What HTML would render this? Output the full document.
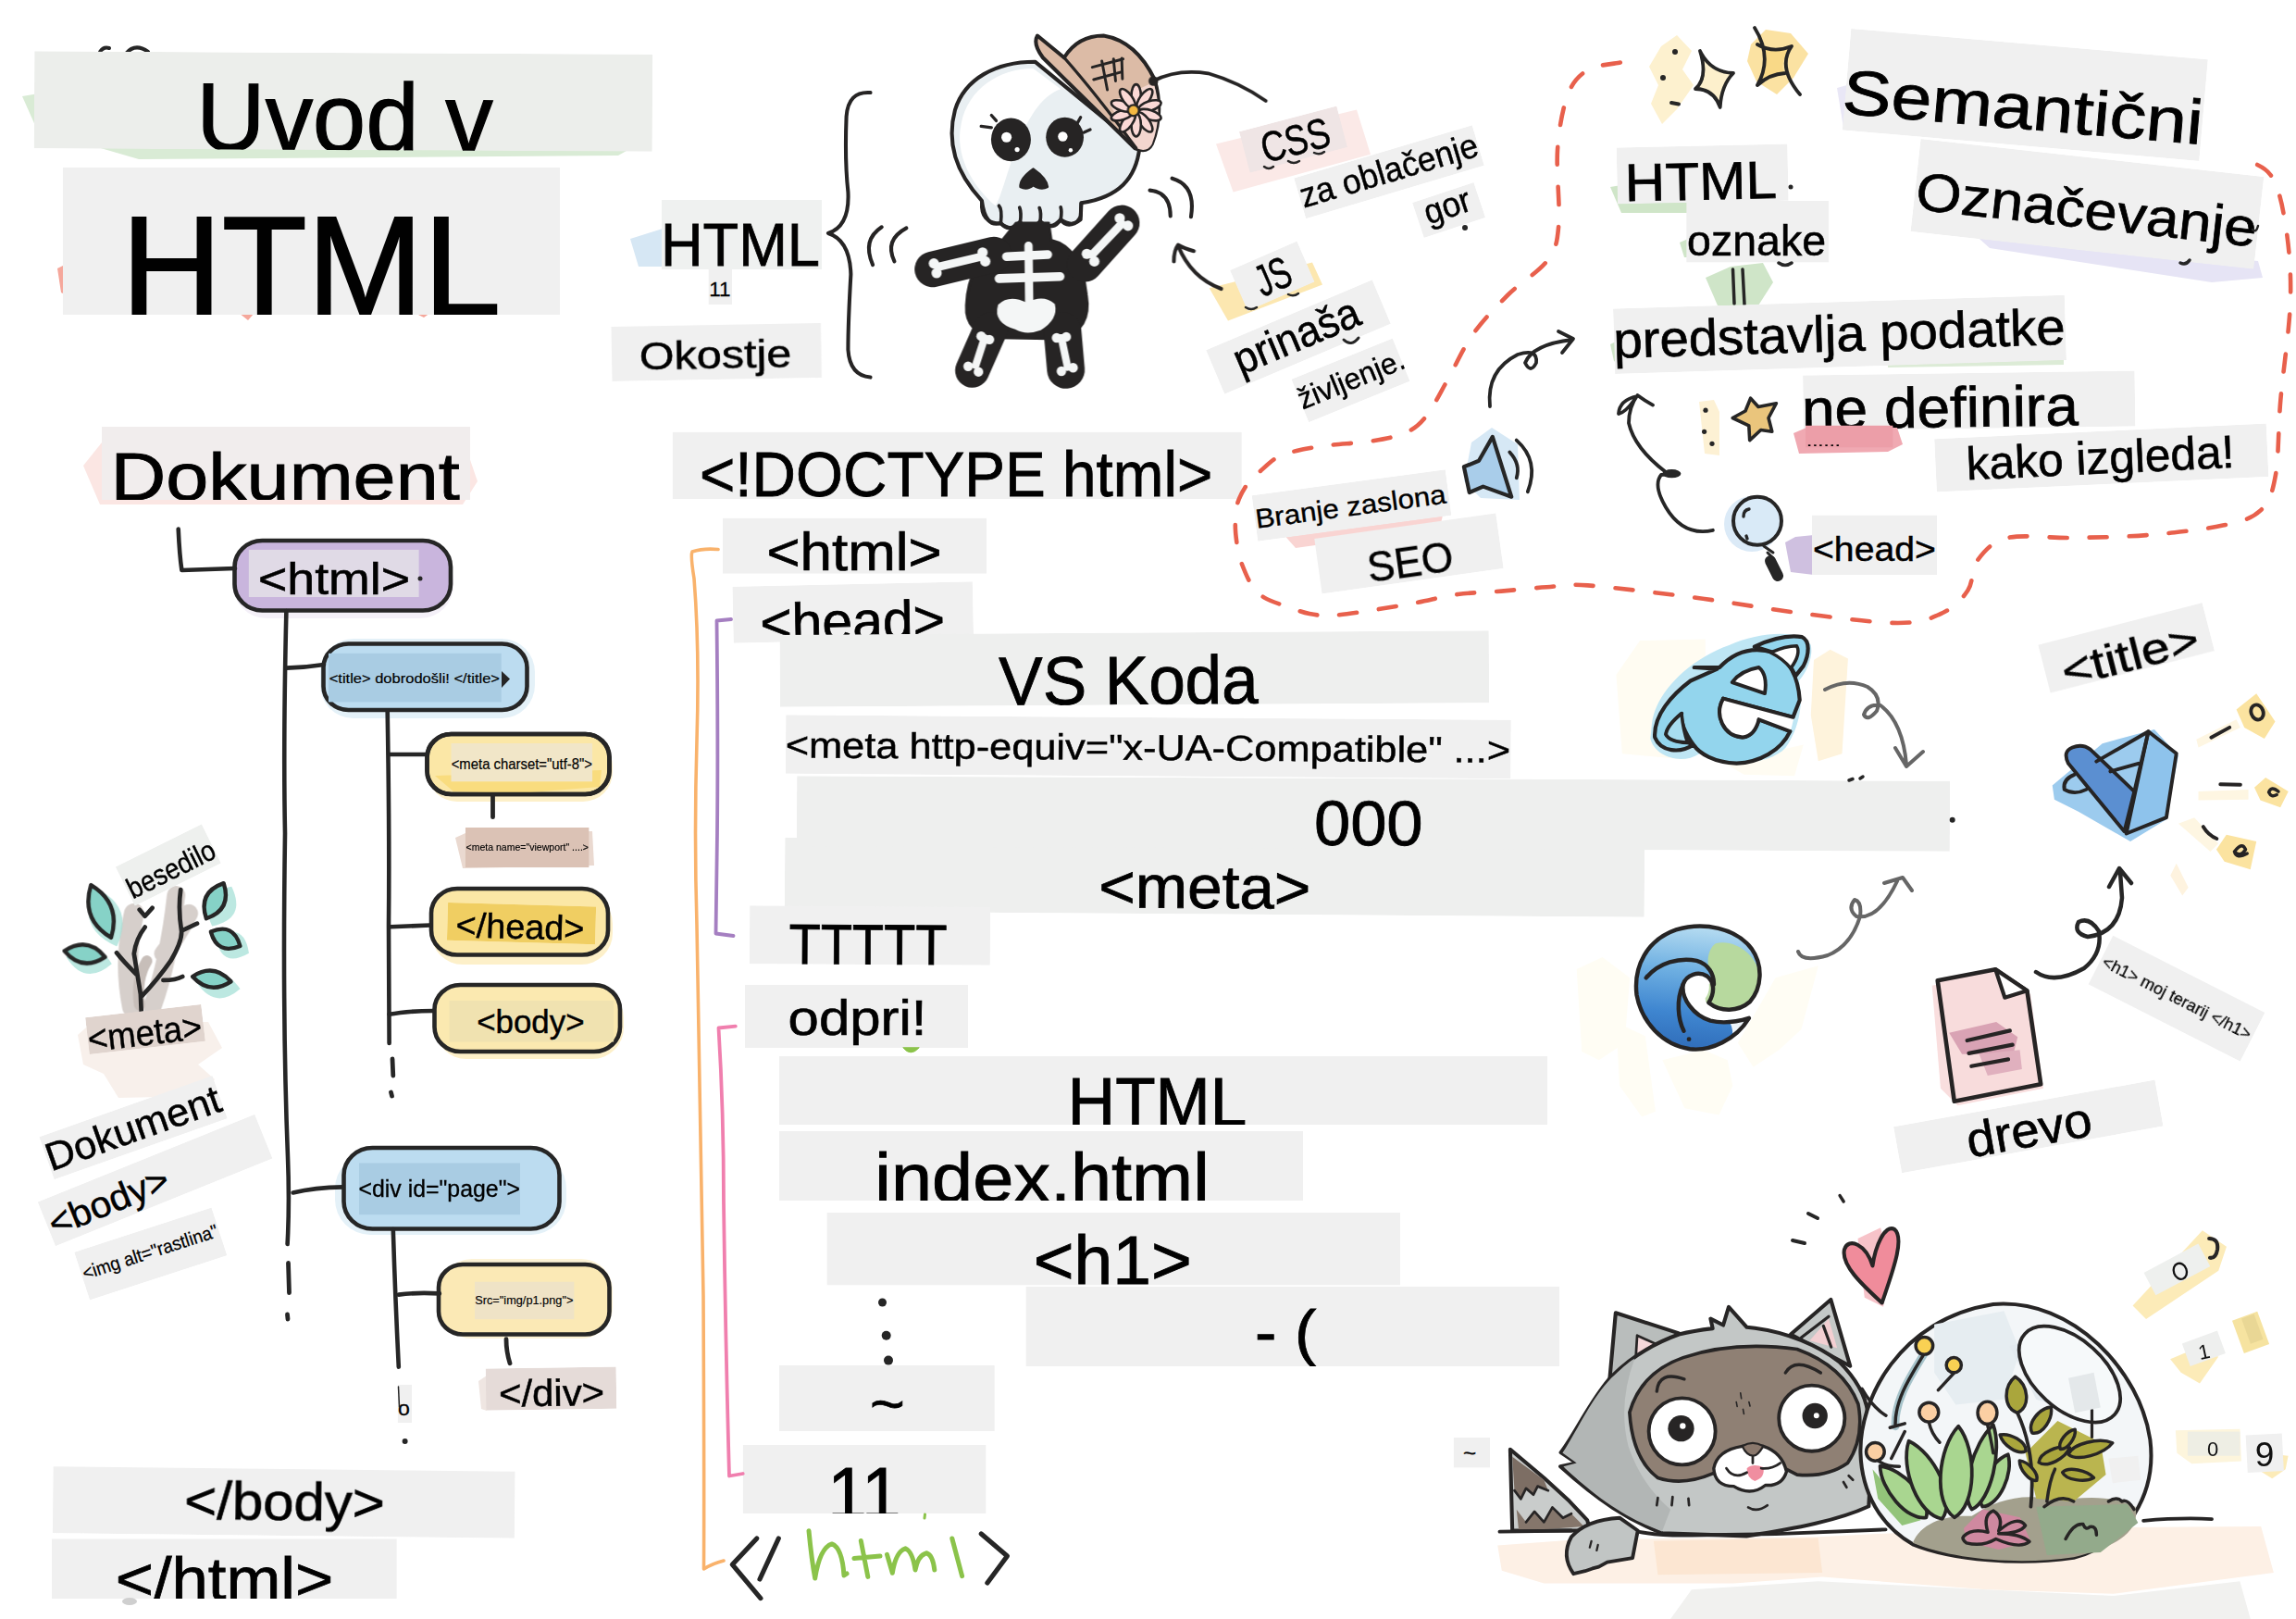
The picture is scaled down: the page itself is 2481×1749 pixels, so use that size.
<!DOCTYPE html>
<html><head><meta charset="utf-8"><title>Uvod v HTML</title>
<style>
html,body{margin:0;padding:0;background:#fff;}
body{width:2481px;height:1749px;overflow:hidden;font-family:"Liberation Sans",sans-serif;}
svg text{font-family:"Liberation Sans",sans-serif;}
</style></head><body>
<svg width="2481" height="1749" viewBox="0 0 2481 1749" style="display:block;opacity:0.999">
<polygon points="24.0,104.0 60.0,98.0 700.0,150.0 668.0,168.0 150.0,172.0 40.0,140.0" fill="#d9ebd5"/>
<path d="M108,56 q4,-6 10,-4 M136,58 q10,-12 24,-2" fill="none" stroke="#262626" stroke-width="4" stroke-linecap="round" stroke-linejoin="round" />
<g transform="rotate(0.30 371.0 109.5)">
<svg x="37.0" y="57.0" width="668.0" height="105.0" overflow="hidden">
<rect width="100%" height="100%" fill="#eceeeb"/>
<text x="175.3" y="106.5" font-size="105.0" fill="#000" stroke="#000" stroke-width="1.26" textLength="320.5" lengthAdjust="spacingAndGlyphs">Uvod v</text>
</svg></g>
<polygon points="62.0,290.0 70.0,286.0 70.0,318.0 66.0,316.0" fill="#f5a79b"/>
<polygon points="258.0,338.0 275.0,338.0 268.0,346.0" fill="#f5a79b"/>
<polygon points="448.0,338.0 465.0,338.0 458.0,343.0" fill="#f5a79b"/>
<g>
<svg x="68.0" y="181.0" width="537.0" height="159.0" overflow="hidden">
<rect width="100%" height="100%" fill="#f0f0f0"/>
<text x="62.9" y="159.5" font-size="153.9" fill="#000" stroke="#000" stroke-width="1.85" textLength="410.4" lengthAdjust="spacingAndGlyphs">HTML</text>
</svg></g>
<polygon points="90.0,503.0 110.0,478.0 505.0,488.0 516.0,520.0 500.0,545.0 108.0,545.0" fill="#fbe6e3"/>
<g>
<svg x="110.0" y="461.0" width="398.0" height="79.0" overflow="hidden">
<rect width="100%" height="100%" fill="#f1eded"/>
<text x="9.4" y="78.5" font-size="73.0" fill="#000" stroke="#000" stroke-width="0.88" textLength="377.3" lengthAdjust="spacingAndGlyphs">Dokument</text>
</svg></g>
<polygon points="681.0,258.0 716.0,247.0 716.0,288.0 690.0,288.0" fill="#d6e7f4"/>
<g>
<svg x="715.0" y="216.0" width="173.0" height="75.0" overflow="hidden">
<rect width="100%" height="100%" fill="#eff1f0"/>
<text x="-1.1" y="71.0" font-size="64.5" fill="#000" stroke="#000" stroke-width="0.77" textLength="172.1" lengthAdjust="spacingAndGlyphs">HTML</text>
</svg></g>
<g>
<svg x="765.5" y="291.0" width="25.5" height="38.0" overflow="hidden">
<rect width="100%" height="100%" fill="#f0f0f0"/>
<text x="0.8" y="28.5" font-size="21.8" fill="#000" stroke="#000" stroke-width="0.26" textLength="23.3" lengthAdjust="spacingAndGlyphs">11</text>
</svg></g>
<g transform="rotate(-1.00 774.2 380.5)">
<svg x="661.0" y="351.0" width="226.5" height="59.0" overflow="hidden">
<rect width="100%" height="100%" fill="#f0f0f0"/>
<text x="29.8" y="47.0" font-size="43.2" fill="#000" stroke="#000" stroke-width="0.52" textLength="164.4" lengthAdjust="spacingAndGlyphs">Okostje</text>
</svg></g>
<g>
<svg x="726.7" y="466.7" width="615.1" height="72.3" overflow="hidden">
<rect width="100%" height="100%" fill="#f0f0f0"/>
<text x="29.3" y="69.6" font-size="67.6" fill="#000" stroke="#000" stroke-width="0.81" textLength="554.4" lengthAdjust="spacingAndGlyphs">&lt;!DOCTYPE html&gt;</text>
</svg></g>
<g>
<svg x="780.8" y="559.7" width="285.2" height="60.0" overflow="hidden">
<rect width="100%" height="100%" fill="#f0f0f0"/>
<text x="47.6" y="56.3" font-size="58.2" fill="#000" stroke="#000" stroke-width="0.70" textLength="189.4" lengthAdjust="spacingAndGlyphs">&lt;html&gt;</text>
</svg></g>
<g transform="rotate(-1.20 921.8 661.5)">
<svg x="792.0" y="631.0" width="259.5" height="61.0" overflow="hidden">
<rect width="100%" height="100%" fill="#f0f0f0"/>
<text x="29.1" y="60.0" font-size="58.2" fill="#000" stroke="#000" stroke-width="0.70" textLength="199.7" lengthAdjust="spacingAndGlyphs">&lt;head&gt;</text>
</svg></g>
<g transform="rotate(-0.35 1225.8 722.5)">
<svg x="842.7" y="683.5" width="766.3" height="78.0" overflow="hidden">
<rect width="100%" height="100%" fill="#eeefee"/>
<text x="236.7" y="77.0" font-size="73.8" fill="#000" stroke="#000" stroke-width="0.89" textLength="280.2" lengthAdjust="spacingAndGlyphs">VS Koda</text>
</svg></g>
<g transform="rotate(0.40 1240.8 806.8)">
<svg x="849.0" y="775.0" width="783.6" height="63.5" overflow="hidden">
<rect width="100%" height="100%" fill="#f0f0f0"/>
<text x="-0.2" y="46.0" font-size="39.0" fill="#000" stroke="#000" stroke-width="0.47" textLength="783.3" lengthAdjust="spacingAndGlyphs">&lt;meta http-equiv=&quot;x-UA-Compatible&quot; ...&gt;</text>
</svg></g>
<g transform="rotate(0.40 1312.5 947.8)">
<svg x="848.0" y="908.0" width="929.0" height="79.5" overflow="hidden">
<rect width="100%" height="100%" fill="#eeefee"/>
<text x="339.6" y="73.0" font-size="65.5" fill="#000" stroke="#000" stroke-width="0.79" textLength="228.8" lengthAdjust="spacingAndGlyphs">&lt;meta&gt;</text>
</svg></g>
<g transform="rotate(0.25 1484.0 879.0)">
<svg x="861.0" y="841.0" width="1246.0" height="76.0" overflow="hidden">
<rect width="100%" height="100%" fill="#eeefee"/>
<text x="559.2" y="72.0" font-size="68.6" fill="#000" stroke="#000" stroke-width="0.82" textLength="117.5" lengthAdjust="spacingAndGlyphs">000</text>
</svg></g>
<g transform="rotate(0.30 940.0 1010.5)">
<svg x="810.0" y="979.0" width="260.0" height="63.0" overflow="hidden">
<rect width="100%" height="100%" fill="#f0f0f0"/>
<text x="42.7" y="64.0" font-size="63.4" fill="#000" stroke="#000" stroke-width="0.76" textLength="170.8" lengthAdjust="spacingAndGlyphs">TTTTT</text>
</svg></g>
<g>
<svg x="805.0" y="1063.8" width="241.0" height="68.2" overflow="hidden">
<rect width="100%" height="100%" fill="#f0f0f0"/>
<text x="46.6" y="54.2" font-size="53.0" fill="#000" stroke="#000" stroke-width="0.64" textLength="149.9" lengthAdjust="spacingAndGlyphs">odpri!</text>
</svg></g>
<g>
<svg x="842.0" y="1141.0" width="830.0" height="74.0" overflow="hidden">
<rect width="100%" height="100%" fill="#f0f0f0"/>
<text x="311.8" y="75.0" font-size="73.3" fill="#000" stroke="#000" stroke-width="0.88" textLength="193.5" lengthAdjust="spacingAndGlyphs">HTML</text>
</svg></g>
<g>
<svg x="842.0" y="1222.0" width="566.0" height="75.0" overflow="hidden">
<rect width="100%" height="100%" fill="#f0f0f0"/>
<text x="103.3" y="76.0" font-size="74.4" fill="#000" stroke="#000" stroke-width="0.89" textLength="361.5" lengthAdjust="spacingAndGlyphs">index.html</text>
</svg></g>
<g>
<svg x="893.4" y="1310.0" width="619.6" height="78.6" overflow="hidden">
<rect width="100%" height="100%" fill="#f0f0f0"/>
<text x="223.4" y="77.0" font-size="74.9" fill="#000" stroke="#000" stroke-width="0.90" textLength="171.0" lengthAdjust="spacingAndGlyphs">&lt;h1&gt;</text>
</svg></g>
<g>
<svg x="1108.5" y="1390.0" width="576.5" height="86.0" overflow="hidden">
<rect width="100%" height="100%" fill="#f0f0f0"/>
<text x="247.6" y="72.0" font-size="66.6" fill="#000" stroke="#000" stroke-width="0.80" textLength="66.3" lengthAdjust="spacingAndGlyphs">- (</text>
</svg></g>
<g>
<svg x="842.0" y="1475.0" width="232.8" height="71.0" overflow="hidden">
<rect width="100%" height="100%" fill="#f0f0f0"/>
<text x="98.1" y="63.0" font-size="62.4" fill="#000" stroke="#000" stroke-width="0.75" textLength="37.8" lengthAdjust="spacingAndGlyphs">~</text>
</svg></g>
<g>
<svg x="802.7" y="1561.0" width="262.8" height="74.0" overflow="hidden">
<rect width="100%" height="100%" fill="#f0f0f0"/>
<text x="91.5" y="80.0" font-size="80.1" fill="#000" stroke="#000" stroke-width="0.96" textLength="79.4" lengthAdjust="spacingAndGlyphs">11</text>
</svg></g>
<circle cx="953.5" cy="1407.0" r="4.5" fill="#262626"/>
<circle cx="957.7" cy="1442.8" r="5.0" fill="#262626"/>
<circle cx="960.0" cy="1469.6" r="5.0" fill="#262626"/>
<path d="M776,593.5 Q760,592 748,596 Q746,600 750,625 Q756,700 753,800 Q750,900 753,1000 Q757,1200 760,1400 Q761,1600 760.5,1695 Q770,1689 782,1686" fill="none" stroke="#f9b26b" stroke-width="3.6" stroke-linecap="round" stroke-linejoin="round" />
<path d="M790,669 L774.5,670.5 Q776,800 775,900 L773.5,1008.5 L792.5,1011" fill="none" stroke="#a57fc1" stroke-width="3.8" stroke-linecap="round" stroke-linejoin="round" />
<path d="M794.8,1108.7 L776.5,1110.5 Q782,1200 782,1300 Q784,1450 788,1594.5 L802.7,1592" fill="none" stroke="#f07fae" stroke-width="3.8" stroke-linecap="round" stroke-linejoin="round" />
<path d="M817.8,1662 L791.3,1690.2 L821.9,1726.6" fill="none" stroke="#262626" stroke-width="5.2" stroke-linecap="round" stroke-linejoin="round" />
<path d="M841.3,1662 L821,1706" fill="none" stroke="#262626" stroke-width="5.2" stroke-linecap="round" stroke-linejoin="round" />
<path d="M1060.3,1657 L1088.4,1681 L1066.9,1710" fill="none" stroke="#262626" stroke-width="5.2" stroke-linecap="round" stroke-linejoin="round" />
<path d="M874,1653.8 Q877,1685 880.7,1705 Q886,1672 898.9,1667.9 Q910,1672 912,1702 L915,1700 M930.3,1664.5 L937.8,1703.4 M922.9,1683.6 L951,1681 M958.5,1679.4 L964.3,1699.3 Q968,1676 978.3,1672.8 Q986,1676 989,1696 Q992,1680 1001.5,1677.8 Q1008,1680 1009.8,1696 M1028.8,1662 L1039.6,1702.6" fill="none" stroke="#8bc34a" stroke-width="5" stroke-linecap="round" stroke-linejoin="round" />
<path d="M999.5,1636 L999,1640" fill="none" stroke="#8bc34a" stroke-width="3" stroke-linecap="round" stroke-linejoin="round" />
<path d="M976,1132 Q984,1142 993,1132 Z" fill="#8bc34a" stroke="#8bc34a" stroke-width="1" stroke-linecap="round" stroke-linejoin="round" />
<polygon points="1314.0,155.6 1466.0,118.6 1481.0,166.7 1332.6,207.5" fill="#fbe9e7"/>
<g transform="rotate(-14.70 1397.5 150.7)">
<svg x="1343.0" y="127.7" width="109.0" height="46.0" overflow="hidden">
<rect width="100%" height="100%" fill="#efe5e5"/>
<text x="18.7" y="40.0" font-size="45.8" fill="#000" stroke="#000" stroke-width="0.55" textLength="75.5" lengthAdjust="spacingAndGlyphs">CSS</text>
</svg></g>
<path d="M1366,180 q5,4 10,0 M1392,174 q6,4 12,0 M1420,165 q6,3 11,-1" fill="none" stroke="#262626" stroke-width="2.5" stroke-linecap="round" stroke-linejoin="round" />
<g transform="rotate(-16.60 1501.0 185.7)">
<svg x="1400.5" y="162.9" width="201.0" height="45.5" overflow="hidden">
<rect width="100%" height="100%" fill="#f0f0f0"/>
<text x="1.1" y="33.8" font-size="37.4" fill="#000" stroke="#000" stroke-width="0.45" textLength="199.0" lengthAdjust="spacingAndGlyphs">za oblačenje</text>
</svg></g>
<g transform="rotate(-18.40 1565.6 227.0)">
<svg x="1530.6" y="207.0" width="70.0" height="40.0" overflow="hidden">
<rect width="100%" height="100%" fill="#f0f0f0"/>
<text x="9.1" y="28.0" font-size="37.4" fill="#000" stroke="#000" stroke-width="0.45" textLength="51.1" lengthAdjust="spacingAndGlyphs">gor</text>
</svg></g>
<circle cx="1583" cy="246" r="3" fill="#262626"/>
<polygon points="1306.7,311.3 1418.0,283.5 1429.0,307.5 1327.0,346.5" fill="#fce7b0"/>
<g transform="rotate(-23.50 1374.8 298.3)">
<svg x="1335.3" y="274.3" width="79.0" height="48.0" overflow="hidden">
<rect width="100%" height="100%" fill="#f0f0f0"/>
<text x="21.0" y="41.0" font-size="47.8" fill="#000" stroke="#000" stroke-width="0.57" textLength="38.0" lengthAdjust="spacingAndGlyphs">JS</text>
</svg></g>
<path d="M1346,332 q6,4 12,0 M1392,318 q6,3 11,-1" fill="none" stroke="#262626" stroke-width="2.5" stroke-linecap="round" stroke-linejoin="round" />
<g transform="rotate(-22.90 1403.0 364.0)">
<svg x="1305.5" y="338.2" width="195.0" height="51.6" overflow="hidden">
<rect width="100%" height="100%" fill="#f0f0f0"/>
<text x="24.1" y="39.8" font-size="46.8" fill="#000" stroke="#000" stroke-width="0.56" textLength="143.8" lengthAdjust="spacingAndGlyphs">prinaša</text>
</svg></g>
<path d="M1452,367 q8,8 16,-2" fill="none" stroke="#262626" stroke-width="3" stroke-linecap="round" stroke-linejoin="round" />
<g transform="rotate(-22.10 1459.5 410.8)">
<svg x="1400.5" y="385.8" width="118.0" height="50.0" overflow="hidden">
<rect width="100%" height="100%" fill="#f0f0f0"/>
<text x="-1.3" y="35.0" font-size="32.2" fill="#000" stroke="#000" stroke-width="0.39" textLength="122.3" lengthAdjust="spacingAndGlyphs">življenje.</text>
</svg></g>
<polygon points="1385.0,575.0 1560.0,552.0 1556.0,570.0 1400.0,592.0" fill="#f9d4d2"/>
<g transform="rotate(-7.60 1460.5 546.0)">
<svg x="1355.0" y="521.0" width="211.0" height="50.0" overflow="hidden">
<rect width="100%" height="100%" fill="#f0f0f0"/>
<text x="0.5" y="36.0" font-size="29.1" fill="#000" stroke="#000" stroke-width="0.35" textLength="207.5" lengthAdjust="spacingAndGlyphs">Branje zaslona</text>
</svg></g>
<g transform="rotate(-8.00 1522.5 598.0)">
<svg x="1423.5" y="568.0" width="198.0" height="60.0" overflow="hidden">
<rect width="100%" height="100%" fill="#f0f0f0"/>
<text x="52.5" y="55.0" font-size="45.8" fill="#000" stroke="#000" stroke-width="0.55" textLength="93.0" lengthAdjust="spacingAndGlyphs">SEO</text>
</svg></g>
<polygon points="1985.0,95.0 2010.0,88.0 2000.0,140.0 1992.0,138.0" fill="#e9e7f6"/>
<g transform="rotate(4.95 2188.3 102.4)">
<svg x="1994.8" y="47.4" width="387.0" height="110.0" overflow="hidden">
<rect width="100%" height="100%" fill="#f0f0f0"/>
<text x="-2.8" y="92.0" font-size="68.0" fill="#000" stroke="#000" stroke-width="0.82" textLength="390.3" lengthAdjust="spacingAndGlyphs">Semantični</text>
</svg></g>
<polygon points="2130.0,250.0 2440.0,282.0 2445.0,300.0 2390.0,305.0 2150.0,268.0" fill="#e6e4f5"/>
<g transform="rotate(6.28 2255.4 220.5)">
<svg x="2068.9" y="170.2" width="373.0" height="100.5" overflow="hidden">
<rect width="100%" height="100%" fill="#f0f0f0"/>
<text x="1.4" y="76.2" font-size="58.0" fill="#000" stroke="#000" stroke-width="0.70" textLength="370.3" lengthAdjust="spacingAndGlyphs">Označevanje</text>
</svg></g>
<path d="M2434,248 q4,4 6,-4" fill="none" stroke="#262626" stroke-width="2.5" stroke-linecap="round" stroke-linejoin="round" />
<path d="M2356,284 q6,3 10,-3" fill="none" stroke="#262626" stroke-width="3.5" stroke-linecap="round" stroke-linejoin="round" />
<polygon points="1740.0,202.0 1752.0,200.0 1830.0,216.0 1828.0,230.0 1752.0,230.0" fill="#cfe5c8"/>
<g transform="rotate(-1.20 1839.7 188.1)">
<svg x="1747.3" y="157.5" width="184.7" height="61.1" overflow="hidden">
<rect width="100%" height="100%" fill="#f0f0f0"/>
<text x="8.2" y="58.1" font-size="57.2" fill="#000" stroke="#000" stroke-width="0.69" textLength="164.3" lengthAdjust="spacingAndGlyphs">HTML</text>
</svg></g>
<circle cx="1935" cy="202" r="2.5" fill="#262626"/>
<polygon points="1815.0,262.0 1824.0,258.0 1824.0,278.0 1820.0,278.0" fill="#cfe5c8"/>
<g>
<svg x="1822.2" y="216.8" width="154.1" height="66.7" overflow="hidden">
<rect width="100%" height="100%" fill="#f0f0f0"/>
<text x="0.9" y="59.2" font-size="46.8" fill="#000" stroke="#000" stroke-width="0.56" textLength="149.9" lengthAdjust="spacingAndGlyphs">oznake</text>
</svg></g>
<path d="M1922,284 q7,5 14,0" fill="none" stroke="#262626" stroke-width="3.5" stroke-linecap="round" stroke-linejoin="round" />
<polygon points="1843.0,300.0 1870.0,288.0 1905.0,284.0 1916.0,305.0 1900.0,330.0 1856.0,330.0" fill="#cfe5c8"/>
<path d="M1872.5,291 L1874,328 M1883,291 L1885,329" fill="none" stroke="#262626" stroke-width="3.5" stroke-linecap="round" stroke-linejoin="round" />
<polygon points="1740.0,372.0 1748.0,368.0 1748.0,392.0 1744.0,390.0" fill="#cfe5c8"/>
<polygon points="2040.0,388.0 2230.0,384.0 2230.0,394.0 2040.0,397.0" fill="#dcebd6"/>
<g transform="rotate(-1.74 1988.0 361.3)">
<svg x="1744.0" y="326.1" width="488.0" height="70.4" overflow="hidden">
<rect width="100%" height="100%" fill="#f0f0f0"/>
<text x="-0.7" y="53.2" font-size="55.1" fill="#000" stroke="#000" stroke-width="0.66" textLength="488.3" lengthAdjust="spacingAndGlyphs">predstavlja podatke</text>
</svg></g>
<g transform="rotate(-0.80 2127.8 433.0)">
<svg x="1948.5" y="403.0" width="358.5" height="60.0" overflow="hidden">
<rect width="100%" height="100%" fill="#f0f0f0"/>
<text x="-1.7" y="58.0" font-size="61.4" fill="#000" stroke="#000" stroke-width="0.74" textLength="298.8" lengthAdjust="spacingAndGlyphs">ne definira</text>
</svg></g>
<polygon points="1938.0,468.0 1952.0,462.0 2050.0,462.0 2056.0,480.0 2040.0,488.0 1944.0,490.0" fill="#f0a9b2"/>
<g>
<svg x="1951.0" y="459.5" width="94.6" height="24.1" overflow="hidden">
<rect width="100%" height="100%" fill="#ec9ea8"/>
<text x="1.0" y="22.5" font-size="14.6" fill="#000" stroke="#000" stroke-width="0.17" textLength="37.0" lengthAdjust="spacingAndGlyphs">......</text>
</svg></g>
<g transform="rotate(-2.66 2270.8 494.6)">
<svg x="2091.3" y="465.9" width="359.0" height="57.4" overflow="hidden">
<rect width="100%" height="100%" fill="#f0f0f0"/>
<text x="33.3" y="45.7" font-size="49.9" fill="#000" stroke="#000" stroke-width="0.60" textLength="289.8" lengthAdjust="spacingAndGlyphs">kako izgleda!</text>
</svg></g>
<polygon points="1929.0,586.0 1940.0,580.0 1960.0,578.0 1960.0,621.0 1935.0,618.0" fill="#cfc0e0"/>
<g>
<svg x="1958.0" y="556.5" width="135.0" height="64.5" overflow="hidden">
<rect width="100%" height="100%" fill="#f0f0f0"/>
<text x="1.0" y="49.5" font-size="37.4" fill="#000" stroke="#000" stroke-width="0.45" textLength="132.8" lengthAdjust="spacingAndGlyphs">&lt;head&gt;</text>
</svg></g>
<path d="M1750.8,67.6 C1744.9,68.9 1725.1,69.8 1715.6,75.7 C1706.1,81.6 1699.4,88.3 1694.0,102.7 C1688.6,117.1 1684.6,138.6 1683.0,162.0 C1681.4,185.4 1686.1,223.2 1684.3,243.0 C1682.5,262.8 1681.6,268.3 1672.4,281.0 C1663.2,293.7 1642.6,305.5 1629.0,319.0 C1615.4,332.5 1601.8,346.7 1591.0,362.0 C1580.2,377.3 1572.4,396.1 1564.0,410.8 C1555.6,425.6 1548.1,441.0 1540.4,450.5 C1532.7,460.0 1527.7,463.5 1517.8,467.9 C1507.9,472.2 1494.8,474.4 1481.2,476.6 C1467.6,478.8 1449.3,479.3 1435.9,481.0 C1422.5,482.7 1410.3,484.8 1401.0,487.0 C1391.7,489.2 1386.8,490.2 1380.1,494.0 C1373.4,497.8 1366.1,505.3 1361.0,509.7 C1355.9,514.0 1353.6,514.6 1349.7,520.1 C1345.8,525.6 1340.0,534.9 1337.5,542.8 C1335.0,550.6 1334.8,558.8 1334.8,567.2 C1334.8,575.6 1336.3,586.3 1337.5,593.3 C1338.7,600.3 1339.3,602.6 1341.8,609.0 C1344.3,615.4 1348.2,625.5 1352.3,631.6 C1356.4,637.7 1359.8,641.7 1366.2,645.6 C1372.6,649.5 1382.5,652.3 1390.6,655.2 C1398.7,658.1 1406.6,661.4 1415.0,663.0 C1423.4,664.6 1429.2,665.4 1441.1,664.7 C1453.0,664.0 1471.3,660.9 1486.4,658.6 C1501.5,656.3 1516.9,653.6 1531.7,650.8 C1546.5,648.0 1560.2,644.0 1575.3,642.0 C1590.4,640.0 1606.3,639.9 1622.3,638.6 C1638.3,637.3 1655.5,635.3 1671.1,634.3 C1686.6,633.3 1688.3,630.4 1715.6,632.4 C1742.8,634.4 1796.8,641.1 1834.6,646.0 C1872.4,650.9 1906.7,657.5 1942.7,662.0 C1978.7,666.5 2024.7,673.0 2050.8,673.0 C2076.9,673.0 2086.8,667.9 2099.4,662.0 C2112.0,656.1 2120.1,647.3 2126.4,637.8 C2132.7,628.3 2129.8,614.5 2137.0,605.0 C2144.2,595.5 2152.5,585.0 2169.7,581.0 C2186.9,577.0 2214.8,581.5 2240.0,581.0 C2265.2,580.5 2294.0,580.2 2321.0,578.0 C2348.0,575.8 2381.7,572.0 2402.0,567.6 C2422.3,563.2 2433.2,560.4 2442.7,551.4 C2452.2,542.4 2455.3,533.3 2458.9,513.5 C2462.5,493.7 2461.6,464.0 2464.3,432.4 C2467.0,400.8 2474.1,355.6 2475.0,324.0 C2475.9,292.4 2473.3,265.5 2469.7,243.0 C2466.1,220.5 2462.1,201.2 2453.5,189.0 C2444.9,176.8 2424.2,173.2 2418.3,170.0" fill="none" stroke="#e8604c" stroke-width="4.6" stroke-linecap="round" stroke-linejoin="round" stroke-dasharray="19 24"/>
<polygon points="1795.0,50.0 1812.0,38.0 1828.0,55.0 1818.0,75.0 1830.0,92.0 1812.0,118.0 1796.0,134.0 1784.0,112.0 1792.0,92.0 1782.0,72.0" fill="#fdf1cf"/>
<polygon points="1892.0,48.0 1908.0,32.0 1935.0,36.0 1954.0,58.0 1938.0,84.0 1920.0,102.0 1898.0,88.0 1888.0,66.0" fill="#fbe2a2"/>
<path d="M1837,55 Q1848,78 1873,79 Q1860,92 1858.7,116 Q1852,96 1832,96 Q1846,84 1837,55 Z" fill="#fdf0cc" stroke="#262626" stroke-width="3.8" stroke-linecap="round" stroke-linejoin="round" />
<path d="M1899,48 Q1916,58 1936,50 Q1921,70 1929,79 Q1912,80 1899,92 Q1915,62 1899,48 Z" fill="#f9d987" stroke="none" stroke-width="0" stroke-linecap="round" stroke-linejoin="round" />
<path d="M1896,30 Q1916,62 1899,92 M1899,48 Q1916,58 1936,50 Q1920,72 1945,102 M1899,92 Q1912,80 1929,79" fill="none" stroke="#262626" stroke-width="3.8" stroke-linecap="round" stroke-linejoin="round" />
<circle cx="1810" cy="56" r="3" fill="#262626"/>
<circle cx="1797" cy="84" r="3" fill="#262626"/>
<path d="M1806,111 l8,1.5" fill="none" stroke="#262626" stroke-width="4" stroke-linecap="round" stroke-linejoin="round" />
<polygon points="1590.0,478.0 1612.0,462.0 1640.0,480.0 1642.0,540.0 1600.0,538.0 1582.0,520.0" fill="#d6e8f5"/>
<path d="M1581.9,504.3 L1598,497.8 L1612.8,471.9 L1633.2,536.7 L1602.6,525.6 L1587.8,532 Z" fill="#a9cdea" stroke="#262626" stroke-width="4.2" stroke-linecap="round" stroke-linejoin="round" />
<path d="M1631.3,488.5 Q1643.4,501.5 1638.7,516.3 M1638.7,475.6 Q1663.7,497.8 1650.8,531.2" fill="none" stroke="#262626" stroke-width="3.8" stroke-linecap="round" stroke-linejoin="round" />
<path d="M1610,439 Q1606,400 1640,383 Q1662,376 1660,392 Q1654,404 1648,392 Q1656,372 1699,367 M1684,358 L1700,366 L1688,381" fill="none" stroke="#262626" stroke-width="3.8" stroke-linecap="round" stroke-linejoin="round" />
<path d="M1850.9,572.8 Q1819,580 1800,548 Q1786,524 1795,513 L1812,511 M1800,510 Q1766,484 1760,457 Q1760,440 1769.4,427 Q1776,432 1786,437.6 M1769,428 Q1750,432 1749,447 Q1756,446 1766,432" fill="none" stroke="#262626" stroke-width="3.8" stroke-linecap="round" stroke-linejoin="round" />
<ellipse cx="1806.4" cy="511.7" rx="10" ry="4.6" fill="#262626"/>
<polygon points="1836.0,434.0 1852.0,432.0 1858.0,445.0 1858.0,492.0 1842.0,490.0" fill="#fdf1d4"/>
<circle cx="1843.0" cy="443.2" r="2.6" fill="#262626"/>
<circle cx="1841.6" cy="466.3" r="2.6" fill="#262626"/>
<circle cx="1850.0" cy="479.3" r="2.6" fill="#262626"/>
<path d="M1891.6,430.2 L1900,439.5 L1919.4,435.7 L1911,451.5 L1914.8,466.3 L1902.7,464.5 L1890.7,475.6 L1889.8,459.8 L1872.2,451.5 L1886,444 Z" fill="#eac57c" stroke="#262626" stroke-width="3.6" stroke-linecap="round" stroke-linejoin="round" />
<circle cx="1893" cy="566" r="30" fill="#dbeaf7"/>
<circle cx="1899" cy="562.7" r="26" fill="#d9eaf7" stroke="#262626" stroke-width="4"/>
<path d="M1884,558 Q1884,551 1890,550 M1887,579 L1888,582" fill="none" stroke="#262626" stroke-width="3.4" stroke-linecap="round" stroke-linejoin="round" />
<path d="M1906,590 L1916,597 M1910,597 L1916,603" fill="none" stroke="#262626" stroke-width="3" stroke-linecap="round" stroke-linejoin="round" />
<path d="M1913,606 L1921,622" fill="none" stroke="#262626" stroke-width="12" stroke-linecap="round" stroke-linejoin="round" />
<g transform="translate(620 0) scale(0.37054)">
<path d="M865,270 Q800,265 795,340 Q790,470 800,560 Q805,660 742,680 Q805,700 808,800 Q800,940 800,1020 Q805,1095 865,1100" fill="none" stroke="#262424" stroke-width="11" stroke-linecap="round" stroke-linejoin="round" />
<path d="M898,662 Q840,700 872,772 M970,665 Q905,700 935,762" fill="none" stroke="#262424" stroke-width="11" stroke-linecap="round" stroke-linejoin="round" />
<path d="M1680,555 Q1740,560 1740,630 M1745,520 Q1815,540 1800,632" fill="none" stroke="#262424" stroke-width="11" stroke-linecap="round" stroke-linejoin="round" />
<path d="M1190,585 C1120,510 1085,420 1112,320 C1140,230 1230,180 1345,180 L1650,430 C1640,520 1590,575 1480,592 L1478,640 Q1440,670 1420,640 Q1390,675 1360,645 Q1330,680 1300,648 Q1270,680 1245,650 Q1200,665 1190,585 Z" fill="#e9eff2" stroke="#262424" stroke-width="11" stroke-linecap="round" stroke-linejoin="round" />
<path d="M1130,360 C1150,260 1240,200 1340,200 L1420,260 C1300,300 1260,560 1230,600 C1160,540 1110,450 1130,360 Z" fill="#ffffff" stroke="none" stroke-width="0" stroke-linecap="round" stroke-linejoin="round" />
<path d="M1190,590 Q1185,650 1245,652 Q1250,610 1240,600 M1245,652 Q1290,680 1302,648 Q1306,620 1300,605 M1302,648 Q1340,682 1360,646 Q1364,620 1358,606 M1360,646 Q1400,676 1420,640 Q1424,616 1420,604 M1420,640 Q1462,668 1478,630 L1480,592" fill="none" stroke="#262424" stroke-width="10" stroke-linecap="round" stroke-linejoin="round" />
<ellipse cx="1275" cy="407" rx="58" ry="63" fill="#262424"/>
<ellipse cx="1432" cy="400" rx="55" ry="58" fill="#262424"/>
<circle cx="1262" cy="400" r="15" fill="#fff"/><circle cx="1293" cy="436" r="7" fill="#fff"/>
<circle cx="1426" cy="398" r="14" fill="#fff"/><circle cx="1449" cy="438" r="6" fill="#fff"/>
<path d="M1218,372 L1188,368 M1232,352 L1218,336 M1468,360 L1478,342 M1488,386 L1506,378" fill="none" stroke="#262424" stroke-width="9" stroke-linecap="round" stroke-linejoin="round" />
<path d="M1340,492 Q1300,520 1302,545 Q1322,556 1340,540 Q1362,556 1382,545 Q1380,520 1340,492 Z" fill="#262424" stroke="#262424" stroke-width="6" stroke-linecap="round" stroke-linejoin="round" />
<path d="M1352,104 Q1338,128 1368,168 L1636,432 Q1672,448 1686,420 Q1722,330 1694,232 Q1640,120 1545,104 Q1470,104 1430,168 Z" fill="#dcbba6" stroke="#262424" stroke-width="11" stroke-linecap="round" stroke-linejoin="round" />
<path d="M1560,300 L1690,240 Q1720,330 1686,420 Q1672,446 1640,432 Z" fill="#f3d6cf" stroke="none" stroke-width="0" stroke-linecap="round" stroke-linejoin="round" />
<path d="M1430,168 Q1520,270 1640,432" fill="none" stroke="#262424" stroke-width="9" stroke-linecap="round" stroke-linejoin="round" />
<path d="M1512,196 L1602,172 M1516,232 L1596,210 M1540,178 L1556,262 M1574,172 L1580,236 M1598,170 L1600,230" fill="none" stroke="#262424" stroke-width="8" stroke-linecap="round" stroke-linejoin="round" />
<ellipse cx="1640" cy="322" rx="14" ry="34" fill="#fbd9d6" stroke="#262424" stroke-width="7" transform="rotate(0 1640 322) translate(0 -42)"/>
<ellipse cx="1640" cy="322" rx="14" ry="34" fill="#fbd9d6" stroke="#262424" stroke-width="7" transform="rotate(36 1640 322) translate(0 -42)"/>
<ellipse cx="1640" cy="322" rx="14" ry="34" fill="#fbd9d6" stroke="#262424" stroke-width="7" transform="rotate(72 1640 322) translate(0 -42)"/>
<ellipse cx="1640" cy="322" rx="14" ry="34" fill="#fbd9d6" stroke="#262424" stroke-width="7" transform="rotate(108 1640 322) translate(0 -42)"/>
<ellipse cx="1640" cy="322" rx="14" ry="34" fill="#fbd9d6" stroke="#262424" stroke-width="7" transform="rotate(144 1640 322) translate(0 -42)"/>
<ellipse cx="1640" cy="322" rx="14" ry="34" fill="#fbd9d6" stroke="#262424" stroke-width="7" transform="rotate(180 1640 322) translate(0 -42)"/>
<ellipse cx="1640" cy="322" rx="14" ry="34" fill="#fbd9d6" stroke="#262424" stroke-width="7" transform="rotate(216 1640 322) translate(0 -42)"/>
<ellipse cx="1640" cy="322" rx="14" ry="34" fill="#fbd9d6" stroke="#262424" stroke-width="7" transform="rotate(252 1640 322) translate(0 -42)"/>
<ellipse cx="1640" cy="322" rx="14" ry="34" fill="#fbd9d6" stroke="#262424" stroke-width="7" transform="rotate(288 1640 322) translate(0 -42)"/>
<ellipse cx="1640" cy="322" rx="14" ry="34" fill="#fbd9d6" stroke="#262424" stroke-width="7" transform="rotate(324 1640 322) translate(0 -42)"/>
<circle cx="1632" cy="322" r="16" fill="#f5b942" stroke="#262424" stroke-width="6"/>
<circle cx="1690" cy="236" r="14" fill="#262424"/>
<path d="M1690,236 Q1760,200 1850,214 Q1940,240 2018,294" fill="none" stroke="#262424" stroke-width="10" stroke-linecap="round" stroke-linejoin="round" />
<path d="M1290,650 L1385,650 L1392,700 Q1480,720 1495,860 Q1512,960 1420,988 L1240,984 Q1140,975 1145,890 Q1150,760 1250,700 Z" fill="#262424" stroke="#262424" stroke-width="8" stroke-linecap="round" stroke-linejoin="round" />
<path d="M1046,785 L1225,742" fill="none" stroke="#262424" stroke-width="104" stroke-linecap="round" stroke-linejoin="round" />
<path d="M1490,770 L1598,650" fill="none" stroke="#262424" stroke-width="104" stroke-linecap="round" stroke-linejoin="round" />
<path d="M1215,960 L1162,1080" fill="none" stroke="#262424" stroke-width="100" stroke-linecap="round" stroke-linejoin="round" />
<path d="M1425,965 L1435,1078" fill="none" stroke="#262424" stroke-width="110" stroke-linecap="round" stroke-linejoin="round" />
<path d="M1062,778 L1188,748" fill="none" stroke="#f4f6f6" stroke-width="24" stroke-linecap="round" stroke-linejoin="round" />
<circle cx="1050" cy="768" r="15" fill="#f4f6f6"/>
<circle cx="1058" cy="796" r="15" fill="#f4f6f6"/>
<circle cx="1192" cy="736" r="15" fill="#f4f6f6"/>
<circle cx="1200" cy="762" r="15" fill="#f4f6f6"/>
<path d="M1512,742 L1598,652" fill="none" stroke="#f4f6f6" stroke-width="24" stroke-linecap="round" stroke-linejoin="round" />
<circle cx="1496" cy="740" r="15" fill="#f4f6f6"/>
<circle cx="1518" cy="762" r="15" fill="#f4f6f6"/>
<circle cx="1592" cy="636" r="15" fill="#f4f6f6"/>
<circle cx="1616" cy="658" r="15" fill="#f4f6f6"/>
<path d="M1262,748 L1382,742 M1240,812 L1418,806" fill="none" stroke="#f4f6f6" stroke-width="26" stroke-linecap="round" stroke-linejoin="round" />
<path d="M1326,716 L1328,880" fill="none" stroke="#f4f6f6" stroke-width="24" stroke-linecap="round" stroke-linejoin="round" />
<path d="M1240,890 Q1270,860 1320,885 Q1370,860 1400,888 Q1410,930 1360,960 Q1320,975 1290,958 Q1225,940 1240,890 Z" fill="#f4f6f6" stroke="#f4f6f6" stroke-width="6" stroke-linecap="round" stroke-linejoin="round" />
<path d="M1198,985 L1172,1065" fill="none" stroke="#f4f6f6" stroke-width="22" stroke-linecap="round" stroke-linejoin="round" />
<circle cx="1188" cy="980" r="14" fill="#f4f6f6"/>
<circle cx="1212" cy="990" r="14" fill="#f4f6f6"/>
<circle cx="1150" cy="1068" r="14" fill="#f4f6f6"/>
<circle cx="1180" cy="1084" r="14" fill="#f4f6f6"/>
<path d="M1422,985 L1440,1070" fill="none" stroke="#f4f6f6" stroke-width="22" stroke-linecap="round" stroke-linejoin="round" />
<circle cx="1408" cy="985" r="14" fill="#f4f6f6"/>
<circle cx="1436" cy="982" r="14" fill="#f4f6f6"/>
<circle cx="1422" cy="1082" r="14" fill="#f4f6f6"/>
<circle cx="1456" cy="1072" r="14" fill="#f4f6f6"/>
<path d="M1888,842 Q1800,810 1762,716 M1750,762 Q1750,730 1762,714 Q1780,724 1808,732" fill="none" stroke="#262424" stroke-width="11" stroke-linecap="round" stroke-linejoin="round" />
</g>
<rect x="252" y="592" width="238" height="76" rx="36" fill="#efe9f5" opacity="0.7"/>
<rect x="253.5" y="584.0" width="233.5" height="75.5" rx="30.0" ry="28.5" fill="#c9b5dd" stroke="#262626" stroke-width="4.6"/>
<g>
<svg x="268.6" y="593.7" width="184.2" height="51.3" overflow="hidden">
<rect width="100%" height="100%" fill="#e0dae6"/>
<text x="10.3" y="48.2" font-size="48.9" fill="#000" stroke="#000" stroke-width="0.59" textLength="164.2" lengthAdjust="spacingAndGlyphs">&lt;html&gt;</text>
</svg></g>
<circle cx="454" cy="625" r="2.5" fill="#262626"/>
<rect x="346" y="690" width="232" height="86" rx="36" fill="#e4f1f8"/>
<rect x="349.5" y="695.5" width="220.0" height="71.5" rx="27.0" ry="25.6" fill="#bcdcf0" stroke="#262626" stroke-width="4.6"/>
<g>
<svg x="355.0" y="705.6" width="186.7" height="53.0" overflow="hidden">
<rect width="100%" height="100%" fill="#a9cce3"/>
<text x="0.7" y="32.9" font-size="15.1" fill="#000" stroke="#000" stroke-width="0.18" textLength="184.3" lengthAdjust="spacingAndGlyphs">&lt;title&gt; dobrodošli! &lt;/title&gt;</text>
</svg></g>
<polygon points="542.0,725.0 551.0,733.5 542.0,743.0" fill="#262626"/>
<rect x="462" y="796" width="200" height="70" rx="32" fill="#fdf0c9"/>
<rect x="461.5" y="793.0" width="197.0" height="65.0" rx="26.0" ry="24.7" fill="#fbe7a6" stroke="#262626" stroke-width="4.6"/>
<polygon points="470.0,838.0 650.0,832.0 648.0,850.0 560.0,857.0 490.0,855.0" fill="#f9dc7e"/>
<rect x="461.5" y="793" width="197" height="65" rx="26" fill="none" stroke="#262626" stroke-width="4.6"/>
<g>
<svg x="487.3" y="803.0" width="153.0" height="41.6" overflow="hidden">
<rect width="100%" height="100%" fill="#f1e6c8"/>
<text x="0.4" y="27.5" font-size="16.1" fill="#000" stroke="#000" stroke-width="0.19" textLength="152.3" lengthAdjust="spacingAndGlyphs">&lt;meta charset=&quot;utf-8&quot;&gt;</text>
</svg></g>
<polygon points="492.0,905.0 503.0,900.0 640.0,898.0 642.0,935.0 500.0,938.0" fill="#ead9d0"/>
<g>
<svg x="502.8" y="893.9" width="133.8" height="43.3" overflow="hidden">
<rect width="100%" height="100%" fill="#dbc2b5"/>
<text x="0.7" y="25.1" font-size="10.9" fill="#000" stroke="#000" stroke-width="0.13" textLength="132.5" lengthAdjust="spacingAndGlyphs">&lt;meta name=&quot;viewport&quot; ....&gt;</text>
</svg></g>
<rect x="466" y="964" width="196" height="78" rx="34" fill="#fdf0c9"/>
<rect x="466.0" y="960.0" width="191.0" height="71.5" rx="28.0" ry="26.6" fill="#fbe7a6" stroke="#262626" stroke-width="4.6"/>
<g transform="rotate(1.60 563.5 997.6)">
<svg x="483.5" y="977.2" width="160.1" height="40.8" overflow="hidden">
<rect width="100%" height="100%" fill="#f0ce62"/>
<text x="9.3" y="36.8" font-size="37.4" fill="#000" stroke="#000" stroke-width="0.45" textLength="138.8" lengthAdjust="spacingAndGlyphs">&lt;/head&gt;</text>
</svg></g>
<rect x="470" y="1066" width="204" height="78" rx="34" fill="#fdf0c9"/>
<rect x="469.5" y="1064.0" width="200.5" height="72.0" rx="28.0" ry="26.6" fill="#fbe9b0" stroke="#262626" stroke-width="4.6"/>
<g>
<svg x="485.4" y="1081.0" width="177.9" height="44.5" overflow="hidden">
<rect width="100%" height="100%" fill="#f0e2b0"/>
<text x="29.8" y="35.2" font-size="34.8" fill="#000" stroke="#000" stroke-width="0.42" textLength="116.4" lengthAdjust="spacingAndGlyphs">&lt;body&gt;</text>
</svg></g>
<rect x="362" y="1246" width="250" height="88" rx="38" fill="#e4f1f8"/>
<rect x="371.5" y="1240.0" width="233.0" height="87.5" rx="31.0" ry="29.4" fill="#bcdcf0" stroke="#262626" stroke-width="4.6"/>
<g>
<svg x="388.0" y="1256.3" width="174.0" height="56.1" overflow="hidden">
<rect width="100%" height="100%" fill="#a9cce3"/>
<text x="-0.5" y="36.7" font-size="25.5" fill="#000" stroke="#000" stroke-width="0.31" textLength="174.5" lengthAdjust="spacingAndGlyphs">&lt;div id=&quot;page&quot;&gt;</text>
</svg></g>
<rect x="476" y="1360" width="186" height="86" rx="34" fill="#fdf3d6"/>
<rect x="474.0" y="1366.0" width="184.5" height="75.5" rx="26.0" ry="24.7" fill="#fbe9b5" stroke="#262626" stroke-width="4.6"/>
<g>
<svg x="513.0" y="1384.5" width="107.4" height="40.9" overflow="hidden">
<rect width="100%" height="100%" fill="#efe3c6"/>
<text x="0.2" y="24.5" font-size="12.0" fill="#000" stroke="#000" stroke-width="0.14" textLength="106.2" lengthAdjust="spacingAndGlyphs">Src=&quot;img/p1.png&quot;&gt;</text>
</svg></g>
<polygon points="517.0,1492.0 526.0,1486.0 526.0,1524.0 520.0,1522.0" fill="#efe6e2"/>
<g transform="rotate(-0.80 595.5 1500.2)">
<svg x="525.0" y="1477.5" width="141.0" height="45.3" overflow="hidden">
<rect width="100%" height="100%" fill="#e5dbd8"/>
<text x="13.9" y="41.3" font-size="40.6" fill="#000" stroke="#000" stroke-width="0.49" textLength="114.2" lengthAdjust="spacingAndGlyphs">&lt;/div&gt;</text>
</svg></g>
<g>
<svg x="429.6" y="1496.0" width="15.4" height="41.0" overflow="hidden">
<rect width="100%" height="100%" fill="#f0f0f0"/>
<text x="0.5" y="33.0" font-size="21.8" fill="#000" stroke="#000" stroke-width="0.26" textLength="12.9" lengthAdjust="spacingAndGlyphs">o</text>
</svg></g>
<path d="M430.5,1498 L431.5,1520" fill="none" stroke="#262626" stroke-width="1.5" stroke-linecap="round" stroke-linejoin="round" />
<path d="M192.7,571.5 Q194,600 196.4,616 L254,614" fill="none" stroke="#262626" stroke-width="4.6" stroke-linecap="round" stroke-linejoin="round" />
<path d="M309.4,660 Q306,800 308,900 Q305,1100 311,1250 Q313,1300 310.6,1344" fill="none" stroke="#262626" stroke-width="4.6" stroke-linecap="round" stroke-linejoin="round" />
<path d="M311.5,1364.5 L312.5,1396.6 M310.5,1420 L311,1425" fill="none" stroke="#262626" stroke-width="4.8" stroke-linecap="round" stroke-linejoin="round" />
<path d="M418.7,769 Q421,900 420,1000 L420.6,1127" fill="none" stroke="#262626" stroke-width="4.6" stroke-linecap="round" stroke-linejoin="round" />
<path d="M424,1144 L424.8,1162 M422.5,1180 L423.5,1184" fill="none" stroke="#262626" stroke-width="4.8" stroke-linecap="round" stroke-linejoin="round" />
<path d="M424.8,1328 Q427,1400 430.8,1476.7" fill="none" stroke="#262626" stroke-width="4.6" stroke-linecap="round" stroke-linejoin="round" />
<path d="M309.4,721.6 Q330,721 350,717.9" fill="none" stroke="#262626" stroke-width="4.6" stroke-linecap="round" stroke-linejoin="round" />
<path d="M420.6,815 L461.3,815" fill="none" stroke="#262626" stroke-width="4.6" stroke-linecap="round" stroke-linejoin="round" />
<path d="M532.5,860 L532.5,882.7" fill="none" stroke="#262626" stroke-width="4.8" stroke-linecap="round" stroke-linejoin="round" />
<path d="M422.4,1001.3 L465,999.5" fill="none" stroke="#262626" stroke-width="4.6" stroke-linecap="round" stroke-linejoin="round" />
<path d="M420.6,1095.8 Q440,1092 468.7,1092" fill="none" stroke="#262626" stroke-width="4.6" stroke-linecap="round" stroke-linejoin="round" />
<path d="M316.6,1288.4 Q340,1283 370.7,1282.4" fill="none" stroke="#262626" stroke-width="4.6" stroke-linecap="round" stroke-linejoin="round" />
<path d="M430.8,1398.6 Q450,1396 474.9,1397.4" fill="none" stroke="#262626" stroke-width="4.6" stroke-linecap="round" stroke-linejoin="round" />
<path d="M547,1446.7 Q547,1460 551,1472.7" fill="none" stroke="#262626" stroke-width="4.8" stroke-linecap="round" stroke-linejoin="round" />
<circle cx="437.6" cy="1556.9" r="3" fill="#262626"/>
<g transform="rotate(0.64 306.8 1623.0)">
<svg x="57.3" y="1587.0" width="499.0" height="72.0" overflow="hidden">
<rect width="100%" height="100%" fill="#f0f0f0"/>
<text x="142.1" y="54.8" font-size="58.2" fill="#000" stroke="#000" stroke-width="0.70" textLength="216.3" lengthAdjust="spacingAndGlyphs">&lt;/body&gt;</text>
</svg></g>
<g>
<svg x="56.0" y="1662.3" width="372.8" height="64.7" overflow="hidden">
<rect width="100%" height="100%" fill="#f0f0f0"/>
<text x="68.7" y="65.7" font-size="64.5" fill="#000" stroke="#000" stroke-width="0.77" textLength="235.6" lengthAdjust="spacingAndGlyphs">&lt;/html&gt;</text>
</svg></g>
<ellipse cx="140" cy="1730" rx="8" ry="4" fill="#cfcfcf"/>
<g transform="translate(40 880) scale(0.19772)">
<path d="M520,1050 Q470,800 530,540" fill="none" stroke="#d6cfcb" stroke-width="110" stroke-linecap="round" stroke-linejoin="round" />
<path d="M630,1050 Q720,800 760,440 M830,540 Q760,680 690,760" fill="none" stroke="#d6cfcb" stroke-width="100" stroke-linecap="round" stroke-linejoin="round" />
<path d="M560,1040 Q540,900 600,800" fill="none" stroke="#c7beb9" stroke-width="60" stroke-linecap="round" stroke-linejoin="round" />
<path d="M295,385 Q204,584 405,672 Q496,473 295,385 Z" fill="#a6e0d7" opacity="0.75" transform="translate(-17 -32) scale(1.12)"/>
<path d="M295,385 Q238,571 405,672 Q462,486 295,385 Z" fill="#86d2c7" stroke="#262626" stroke-width="22" stroke-linecap="round" stroke-linejoin="round" />
<path d="M150,745 Q242,890 372,778 Q280,633 150,745 Z" fill="#a6e0d7" opacity="0.75" transform="translate(-8 -56) scale(1.12)"/>
<path d="M150,745 Q246,860 372,778 Q276,663 150,745 Z" fill="#86d2c7" stroke="#262626" stroke-width="22" stroke-linecap="round" stroke-linejoin="round" />
<path d="M1020,375 Q850,411 925,568 Q1095,532 1020,375 Z" fill="#a6e0d7" opacity="0.75" transform="translate(-79 -27) scale(1.12)"/>
<path d="M1020,375 Q878,425 925,568 Q1067,518 1020,375 Z" fill="#86d2c7" stroke="#262626" stroke-width="22" stroke-linecap="round" stroke-linejoin="round" />
<path d="M950,640 Q973,796 1110,718 Q1087,562 950,640 Z" fill="#a6e0d7" opacity="0.75" transform="translate(-85 -47) scale(1.12)"/>
<path d="M950,640 Q986,769 1110,718 Q1074,589 950,640 Z" fill="#86d2c7" stroke="#262626" stroke-width="22" stroke-linecap="round" stroke-linejoin="round" />
<path d="M850,885 Q940,1015 1060,912 Q970,782 850,885 Z" fill="#a6e0d7" opacity="0.75" transform="translate(-77 -69) scale(1.12)"/>
<path d="M850,885 Q944,988 1060,912 Q966,809 850,885 Z" fill="#86d2c7" stroke="#262626" stroke-width="22" stroke-linecap="round" stroke-linejoin="round" />
<path d="M570,1075 L566,980 Q548,870 530,760 Q540,680 590,615 M540,870 Q470,800 435,755 M575,990 Q660,900 730,800 Q790,700 790,640 Q770,520 785,410 M800,630 L875,595 M690,905 Q760,905 795,885 M560,520 L590,555 L630,510" fill="none" stroke="#262626" stroke-width="24" stroke-linecap="round" stroke-linejoin="round" />
</g>
<g transform="rotate(-26.40 181.8 934.6)">
<svg x="129.8" y="911.0" width="104.0" height="47.2" overflow="hidden">
<rect width="100%" height="100%" fill="#eef0ee"/>
<text x="1.2" y="39.6" font-size="31.2" fill="#000" stroke="#000" stroke-width="0.37" textLength="102.9" lengthAdjust="spacingAndGlyphs">besedilo</text>
</svg></g>
<polygon points="84.0,1118.0 100.0,1104.0 225.0,1104.0 240.0,1132.0 214.0,1150.0 232.0,1166.0 222.0,1184.0 128.0,1186.0 112.0,1160.0 90.0,1150.0" fill="#f8f0eb"/>
<g transform="rotate(-6.60 157.0 1112.0)">
<svg x="94.0" y="1092.0" width="126.0" height="40.0" overflow="hidden">
<rect width="100%" height="100%" fill="#e0d4ce"/>
<text x="0.2" y="37.0" font-size="39.0" fill="#000" stroke="#000" stroke-width="0.47" textLength="123.7" lengthAdjust="spacingAndGlyphs">&lt;meta&gt;</text>
</svg></g>
<g transform="rotate(-19.46 144.0 1218.2)">
<svg x="44.8" y="1193.7" width="198.5" height="49.0" overflow="hidden">
<rect width="100%" height="100%" fill="#f0f0f0"/>
<text x="-0.2" y="39.5" font-size="42.6" fill="#000" stroke="#000" stroke-width="0.51" textLength="197.8" lengthAdjust="spacingAndGlyphs">Dokument</text>
</svg></g>
<g transform="rotate(-22.00 167.6 1275.0)">
<svg x="41.1" y="1249.3" width="253.0" height="51.4" overflow="hidden">
<rect width="100%" height="100%" fill="#f0f0f0"/>
<text x="2.9" y="41.7" font-size="40.0" fill="#000" stroke="#000" stroke-width="0.48" textLength="137.0" lengthAdjust="spacingAndGlyphs">&lt;body&gt;</text>
</svg></g>
<g transform="rotate(-18.00 162.8 1354.5)">
<svg x="84.8" y="1327.2" width="156.0" height="54.5" overflow="hidden">
<rect width="100%" height="100%" fill="#f0f0f0"/>
<text x="1.6" y="32.2" font-size="20.3" fill="#000" stroke="#000" stroke-width="0.24" textLength="152.7" lengthAdjust="spacingAndGlyphs">&lt;img alt=&quot;rastlina&quot;</text>
</svg></g>
<g transform="translate(1740 660) scale(0.16057)">
<polygon points="40.0,430.0 200.0,200.0 640.0,190.0 640.0,900.0 500.0,1000.0 80.0,960.0" fill="#fffcf2"/>
<polygon points="1370.0,330.0 1480.0,260.0 1600.0,320.0 1560.0,960.0 1400.0,1010.0 1350.0,700.0" fill="#fef3dc"/>
<polygon points="760.0,1020.0 1300.0,900.0 1240.0,1110.0 900.0,1100.0" fill="#fffcf2"/>
<path d="M280,760 C300,560 520,330 800,230 C1000,140 1300,120 1350,230 C1370,330 1300,440 1270,470 C1300,600 1280,780 1180,920 C1080,1030 800,1060 600,960 C480,1040 300,980 270,860 Z" fill="#bfe6f4" stroke="none" stroke-width="0" stroke-linecap="round" stroke-linejoin="round" />
<path d="M735,380 C850,260 970,240 1100,280 C1200,330 1265,440 1275,600 L1230,715 L760,590 C700,700 760,840 890,850 C950,845 985,790 1000,730 L1210,810 C1150,940 1000,1020 850,1025 C700,1020 600,960 560,900 C500,820 470,740 480,690 C420,740 380,790 375,830 Q400,880 520,885 L560,900 C470,960 340,950 300,850 C290,700 420,560 540,470 L720,390 L565,380 Z" fill="#93d5ed" stroke="#262424" stroke-width="26" stroke-linecap="round" stroke-linejoin="round" />
<path d="M820,480 Q880,400 1000,380 Q1060,430 1040,555 Z" fill="#ffffff" stroke="#262424" stroke-width="24" stroke-linecap="round" stroke-linejoin="round" />
<path d="M760,590 C700,700 760,840 890,850 C950,845 985,790 1000,730 L1010,660 Z" fill="#ffffff" stroke="none" stroke-width="0" stroke-linecap="round" stroke-linejoin="round" />
<path d="M760,590 C700,700 760,840 890,850 C950,845 985,790 1000,730" fill="none" stroke="#262424" stroke-width="24" stroke-linecap="round" stroke-linejoin="round" />
<polygon points="1010.0,655.0 1235.0,722.0 1215.0,805.0 1000.0,725.0" fill="#ffffff"/>
<path d="M760,590 L1230,715 M1000,730 L1210,810" fill="none" stroke="#262424" stroke-width="24" stroke-linecap="round" stroke-linejoin="round" />
<path d="M970,240 C1080,190 1200,160 1290,175 C1345,200 1340,290 1300,370 L1245,440 C1230,380 1150,300 1100,280 Z" fill="#93d5ed" stroke="#262424" stroke-width="26" stroke-linecap="round" stroke-linejoin="round" />
<path d="M1080,280 Q1180,235 1255,235 Q1285,290 1215,385 Q1160,320 1080,280 Z" fill="#ffffff" stroke="#262424" stroke-width="22" stroke-linecap="round" stroke-linejoin="round" />
<path d="M480,690 C420,740 380,790 375,830 Q400,880 520,885 Q490,800 480,690 Z" fill="#a8ddf0" stroke="#262424" stroke-width="22" stroke-linecap="round" stroke-linejoin="round" />
</g>
<path d="M1972,745 Q1996,732 2018,742 Q2034,752 2028,768 Q2018,780 2014,772 Q2018,760 2032,762 Q2056,780 2060,826 M2048,808 L2060,828 L2078,812" fill="none" stroke="#666666" stroke-width="4" stroke-linecap="round" stroke-linejoin="round" />
<path d="M1943,1028 Q1947,1040 1975,1032 Q2000,1022 2010,990 Q2012,974 2004,972 Q1996,982 2006,990 Q2030,994 2050,952 M2036,954 L2056,948 L2066,962" fill="none" stroke="#666666" stroke-width="4" stroke-linecap="round" stroke-linejoin="round" />
<circle cx="2109.7" cy="885.8" r="3" fill="#262626"/>
<path d="M1998,843 l4,-1.5 M2010,841 l3,-2" fill="none" stroke="#262626" stroke-width="3.5" stroke-linecap="round" stroke-linejoin="round" />
<g transform="translate(1700 960) scale(0.18527)">
<polygon points="20.0,470.0 170.0,400.0 330.0,520.0 300.0,900.0 150.0,1000.0 50.0,950.0" fill="#fffdf4"/>
<polygon points="250.0,780.0 420.0,860.0 480.0,1300.0 400.0,1330.0 270.0,1150.0" fill="#fffdf4"/>
<polygon points="520.0,1000.0 760.0,940.0 900.0,1000.0 930.0,1150.0 850.0,1320.0 650.0,1280.0" fill="#fffdf4"/>
<polygon points="960.0,900.0 1180.0,520.0 1430.0,450.0 1330.0,820.0 1200.0,940.0 1050.0,1040.0" fill="#fffdf4"/>
<defs><linearGradient id="edgeg" x1="0.4" y1="0" x2="0.3" y2="1"><stop offset="0" stop-color="#b4dbf1"/><stop offset="0.35" stop-color="#6fb0e2"/><stop offset="0.7" stop-color="#3f86d0"/><stop offset="1" stop-color="#2f6cb9"/></linearGradient></defs>
<path d="M1025,755 C950,880 800,950 680,935 C520,910 400,780 370,620 C350,450 430,300 600,240 C760,190 950,230 1040,350 C1110,450 1100,580 1030,660 C960,720 860,720 790,665 C830,600 820,540 780,510 C730,480 660,500 640,560 C630,640 700,740 800,770 C880,790 960,775 1025,755 Z" fill="url(#edgeg)" stroke="none" stroke-width="0" stroke-linecap="round" stroke-linejoin="round" />
<path d="M830,320 C950,290 1085,400 1088,520 C1085,640 985,722 860,712 C820,700 790,675 790,665 C830,600 822,540 800,500 C770,420 790,350 830,320 Z" fill="#b7d99e" stroke="none" stroke-width="0" stroke-linecap="round" stroke-linejoin="round" />
<path d="M760,610 C770,560 800,540 820,560 C830,620 810,650 790,665 C770,670 755,650 760,610 Z" fill="#bfdca8" stroke="none" stroke-width="0" stroke-linecap="round" stroke-linejoin="round" />
<path d="M652,545 C670,500 740,490 775,518 C800,545 800,600 770,640 C770,690 830,735 900,760 L800,772 C700,742 630,640 652,545 Z" fill="#ffffff" stroke="none" stroke-width="0" stroke-linecap="round" stroke-linejoin="round" />
<path d="M900,760 L1025,755 C990,810 960,830 930,850 Q930,800 900,760 Z" fill="#eef5fb" stroke="none" stroke-width="0" stroke-linecap="round" stroke-linejoin="round" />
<path d="M1025,755 C950,880 800,950 680,935 C520,910 400,780 370,620 C350,450 430,300 600,240 C760,190 950,230 1040,350 C1110,450 1100,580 1030,660 C960,720 860,720 790,665 C830,600 820,540 780,510 C730,480 660,500 640,560 C630,640 700,740 800,770 C880,790 960,775 1025,755 Z" fill="none" stroke="#262424" stroke-width="24" stroke-linecap="round" stroke-linejoin="round" />
<path d="M425,520 C500,430 620,400 720,420 C790,440 822,500 820,560" fill="none" stroke="#262424" stroke-width="24" stroke-linecap="round" stroke-linejoin="round" />
<path d="M640,560 C600,650 610,760 645,830" fill="none" stroke="#262424" stroke-width="24" stroke-linecap="round" stroke-linejoin="round" />
<circle cx="675" cy="878" r="13" fill="#262424"/>
</g>
<g transform="translate(1900 600) scale(0.43228)">
<polygon points="735.0,575.0 860.0,470.0 990.0,435.0 1050.0,500.0 1020.0,660.0 930.0,715.0 800.0,640.0 740.0,610.0" fill="#9ccbee"/>
<path d="M975,440 L1045,495 L1020,655 L920,695 Z" fill="#8ec3ec" stroke="#262424" stroke-width="9" stroke-linecap="round" stroke-linejoin="round" />
<path d="M785,480 Q760,490 775,520 L915,690 L940,590 L830,485 Q810,470 785,480 Z" fill="#5b8fd1" stroke="#262424" stroke-width="9" stroke-linecap="round" stroke-linejoin="round" />
<path d="M845,515 L975,440 L940,590 M880,540 L950,520" fill="none" stroke="#262424" stroke-width="9" stroke-linecap="round" stroke-linejoin="round" />
<path d="M790,548 Q760,560 765,585 Q790,600 820,585" fill="none" stroke="#262424" stroke-width="9" stroke-linecap="round" stroke-linejoin="round" />
<polygon points="1195.0,385.0 1245.0,345.0 1292.0,415.0 1265.0,458.0 1215.0,430.0" fill="#fbe3a0"/>
<polygon points="1095.0,460.0 1195.0,410.0 1205.0,430.0 1100.0,480.0" fill="#fef6e2"/>
<ellipse cx="1247" cy="392" rx="15" ry="19" fill="none" stroke="#262424" stroke-width="9" transform="rotate(-20 1247 392)"/>
<path d="M1132,455 L1178,430" fill="none" stroke="#262424" stroke-width="9" stroke-linecap="round" stroke-linejoin="round" />
<polygon points="1100.0,590.0 1225.0,585.0 1225.0,610.0 1100.0,612.0" fill="#fef6e2"/>
<polygon points="1240.0,580.0 1268.0,555.0 1325.0,590.0 1305.0,630.0 1255.0,612.0" fill="#fbe3a0"/>
<path d="M1155,572 L1205,573" fill="none" stroke="#262424" stroke-width="9" stroke-linecap="round" stroke-linejoin="round" />
<path d="M1300,590 Q1282,575 1276,592 Q1282,606 1296,598" fill="none" stroke="#262424" stroke-width="8" stroke-linecap="round" stroke-linejoin="round" />
<polygon points="1145.0,735.0 1170.0,698.0 1245.0,715.0 1230.0,785.0 1165.0,765.0" fill="#fbe3a0"/>
<polygon points="1050.0,670.0 1090.0,655.0 1150.0,720.0 1130.0,740.0" fill="#fef6e2"/>
<path d="M1112,678 Q1125,700 1146,708" fill="none" stroke="#262424" stroke-width="9" stroke-linecap="round" stroke-linejoin="round" />
<path d="M1192,738 Q1210,715 1218,735 Q1205,755 1190,740 Q1195,760 1222,745" fill="none" stroke="#262424" stroke-width="8" stroke-linecap="round" stroke-linejoin="round" />
<polygon points="1030.0,800.0 1045.0,770.0 1075.0,830.0 1060.0,850.0" fill="#fef3df"/>
</g>
<g transform="rotate(-14.40 2297.7 700.0)">
<svg x="2206.2" y="673.2" width="183.0" height="53.5" overflow="hidden">
<rect width="100%" height="100%" fill="#f0f0f0"/>
<text x="17.8" y="51.8" font-size="49.0" fill="#000" stroke="#000" stroke-width="0.59" textLength="151.3" lengthAdjust="spacingAndGlyphs">&lt;title&gt;</text>
</svg></g>
<g transform="translate(1500 1000) scale(0.46275)">
<polygon points="1270.0,140.0 1420.0,110.0 1500.0,160.0 1530.0,380.0 1330.0,420.0 1290.0,380.0" fill="#f9dede"/>
<path d="M1283,128 L1418,102 L1492,152 L1524,370 L1322,410 Z" fill="#f8dcdc" stroke="#262424" stroke-width="10" stroke-linecap="round" stroke-linejoin="round" />
<path d="M1418,102 L1440,168 L1492,152 Z" fill="#ffffff" stroke="#262424" stroke-width="9" stroke-linecap="round" stroke-linejoin="round" />
<polygon points="1310.0,250.0 1420.0,225.0 1470.0,260.0 1460.0,300.0 1340.0,300.0" fill="#d9a3b4"/>
<polygon points="1380.0,300.0 1475.0,290.0 1480.0,335.0 1400.0,350.0" fill="#e0b0be"/>
<path d="M1352,268 L1452,245 M1356,298 L1458,278 M1362,328 L1448,312" fill="none" stroke="#262424" stroke-width="9" stroke-linecap="round" stroke-linejoin="round" />
</g>
<g transform="rotate(-10.20 2191.8 1216.9)">
<svg x="2048.3" y="1191.5" width="287.0" height="50.8" overflow="hidden">
<rect width="100%" height="100%" fill="#f0f0f0"/>
<text x="75.3" y="47.4" font-size="53.0" fill="#000" stroke="#000" stroke-width="0.64" textLength="136.4" lengthAdjust="spacingAndGlyphs">drevo</text>
</svg></g>
<g transform="rotate(26.90 2352.0 1078.7)">
<svg x="2260.0" y="1049.2" width="184.0" height="59.0" overflow="hidden">
<rect width="100%" height="100%" fill="#f0f0f0"/>
<text x="3.1" y="34.5" font-size="19.0" fill="#000" stroke="#000" stroke-width="0.23" textLength="177.8" lengthAdjust="spacingAndGlyphs">&lt;h1&gt; moj terarij &lt;/h1&gt;</text>
</svg></g>
<path d="M2200,1050 Q2220,1064 2252,1046 Q2272,1030 2268,1006 Q2258,990 2246,996 Q2240,1008 2256,1012 Q2290,1008 2293,970 L2291,942 M2279,958 L2290,938 L2303,954" fill="none" stroke="#262626" stroke-width="4.5" stroke-linecap="round" stroke-linejoin="round" />
<g transform="translate(1600 1380) scale(0.22789)">
<polygon points="80.0,1270.0 500.0,1240.0 800.0,1240.0 1600.0,1230.0 2400.0,1190.0 3700.0,1180.0 3760.0,1400.0 3000.0,1500.0 2400.0,1480.0 1620.0,1420.0 1200.0,1450.0 300.0,1450.0 100.0,1390.0" fill="#fdf0e5"/>
<polygon points="820.0,1250.0 1600.0,1235.0 1620.0,1400.0 840.0,1410.0" fill="#fce6d2"/>
<polygon points="1000.0,1480.0 1600.0,1440.0 2400.0,1480.0 3000.0,1510.0 3600.0,1440.0 3650.0,1619.0 900.0,1619.0" fill="#f1f1ef"/>
<path d="M140,815 L300,950 L420,1060 L505,1150 L520,1200 L150,1200 Z" fill="#c9cccb" stroke="#272525" stroke-width="18" stroke-linecap="round" stroke-linejoin="round" />
<polygon points="150.0,850.0 300.0,960.0 320.0,1010.0 270.0,990.0 250.0,1030.0 215.0,1000.0 190.0,1050.0 160.0,1010.0" fill="#7d6e64"/>
<polygon points="170.0,1100.0 215.0,1160.0 255.0,1110.0 300.0,1160.0 340.0,1090.0 390.0,1140.0 430.0,1120.0 490.0,1180.0 300.0,1195.0 180.0,1195.0" fill="#85766b"/>
<path d="M160,1010 L190,1050 L215,1000 L250,1030 L270,990 L320,1010 M215,1160 L255,1110 L300,1160 L340,1090 L390,1140 L430,1120" fill="none" stroke="#272525" stroke-width="12" stroke-linecap="round" stroke-linejoin="round" />
<path d="M610,500 L640,168 L940,265 Z" fill="#b9bdbc" stroke="#272525" stroke-width="18" stroke-linecap="round" stroke-linejoin="round" />
<path d="M735,385 L742,275 L845,322 Z" fill="#f5d7d9" stroke="#272525" stroke-width="12" stroke-linecap="round" stroke-linejoin="round" />
<path d="M1470,270 L1660,105 L1752,420 Z" fill="#c4c8c7" stroke="#272525" stroke-width="18" stroke-linecap="round" stroke-linejoin="round" />
<path d="M1560,300 L1650,195 L1690,335 Z" fill="#f3cfd2" stroke="none" stroke-width="0" stroke-linecap="round" stroke-linejoin="round" />
<path d="M1520,285 L1650,185 M1625,230 L1662,330" fill="none" stroke="#272525" stroke-width="14" stroke-linecap="round" stroke-linejoin="round" />
<path d="M380,830 C450,740 520,580 620,470 C700,390 800,320 940,270 C1000,255 1050,248 1100,242 L1090,196 L1150,226 L1176,140 L1262,236 L1300,240 C1450,260 1600,320 1700,400 C1780,480 1830,560 1838,660 C1850,800 1850,950 1840,1085 C1700,1150 1500,1190 1260,1226 L860,1212 C700,1150 560,1060 378,896 L455,880 Z" fill="#c3c7c6" stroke="#272525" stroke-width="18" stroke-linecap="round" stroke-linejoin="round" />
<path d="M388,832 C450,740 520,580 620,476 C660,440 700,400 730,385 Q650,600 700,800 Q760,980 900,1100 L860,1204 C700,1145 560,1055 392,896 L455,880 Z" fill="#b2b6b5" stroke="none" stroke-width="0" stroke-linecap="round" stroke-linejoin="round" />
<path d="M706,640 Q760,450 960,380 Q1200,300 1500,340 Q1720,420 1790,600 Q1820,760 1740,880 Q1640,950 1500,935 L1440,905 L1100,930 Q960,990 840,950 Q720,860 706,640 Z" fill="#8f8074" stroke="#272525" stroke-width="16" stroke-linecap="round" stroke-linejoin="round" />
<circle cx="955" cy="730" r="158" fill="#fff" stroke="#272525" stroke-width="17"/>
<circle cx="1570" cy="668" r="156" fill="#fff" stroke="#272525" stroke-width="17"/>
<circle cx="950" cy="716" r="62" fill="#272525"/><circle cx="958" cy="704" r="14" fill="#fff"/>
<circle cx="1585" cy="656" r="60" fill="#272525"/><circle cx="1592" cy="655" r="13" fill="#fff"/>
<path d="M835,540 Q845,440 965,482 M1445,452 Q1490,375 1612,452" fill="none" stroke="#272525" stroke-width="15" stroke-linecap="round" stroke-linejoin="round" />
<path d="M1232,548 l4,26 M1212,590 l4,22 M1272,590 l5,20 M1244,625 l4,22" fill="none" stroke="#272525" stroke-width="7" stroke-linecap="round" stroke-linejoin="round" />
<path d="M1105,905 Q1120,820 1240,800 L1340,800 Q1430,830 1450,920 Q1430,990 1350,985 Q1280,1040 1200,990 Q1110,990 1105,905 Z" fill="#fff" stroke="#272525" stroke-width="15" stroke-linecap="round" stroke-linejoin="round" />
<path d="M1240,800 Q1290,770 1340,800 Q1310,850 1290,845 Q1262,845 1240,800 Z" fill="#8a786c" stroke="#272525" stroke-width="10" stroke-linecap="round" stroke-linejoin="round" />
<path d="M1262,905 Q1290,880 1340,900 Q1350,950 1300,965 Q1262,950 1262,905 Z" fill="#f08ea0" stroke="none" stroke-width="0" stroke-linecap="round" stroke-linejoin="round" />
<path d="M1165,905 Q1200,960 1262,925 M1290,850 L1290,880 M1330,905 Q1380,910 1420,880" fill="none" stroke="#272525" stroke-width="12" stroke-linecap="round" stroke-linejoin="round" />
<path d="M1268,1090 Q1310,1116 1360,1080" fill="none" stroke="#272525" stroke-width="11" stroke-linecap="round" stroke-linejoin="round" />
<path d="M840,1045 L835,1080 M910,1040 L906,1080 M985,1048 L988,1080 M1720,970 L1735,995 M1745,940 L1765,960" fill="none" stroke="#272525" stroke-width="12" stroke-linecap="round" stroke-linejoin="round" />
<path d="M660,1140 Q500,1150 430,1230 Q380,1320 440,1405 L495,1392 L530,1380 L560,1372 L600,1350 L720,1330 L745,1200 Z" fill="#c1c5c4" stroke="#272525" stroke-width="17" stroke-linecap="round" stroke-linejoin="round" />
<path d="M525,1250 l-8,30 M556,1268 l-6,26" fill="none" stroke="#272525" stroke-width="10" stroke-linecap="round" stroke-linejoin="round" />
<path d="M90,1205 L430,1200 M745,1205 Q860,1226 1000,1222 L1400,1216 Q1700,1205 1920,1195" fill="none" stroke="#272525" stroke-width="17" stroke-linecap="round" stroke-linejoin="round" />
</g>
<g>
<svg x="1570.8" y="1553.0" width="39.2" height="32.4" overflow="hidden">
<rect width="100%" height="100%" fill="#f0f0f0"/>
<text x="10.1" y="24.0" font-size="22.9" fill="#000" stroke="#000" stroke-width="0.27" textLength="14.2" lengthAdjust="spacingAndGlyphs">~</text>
</svg></g>
<g transform="translate(1980 1280) scale(0.28977)">
<polygon points="95.0,200.0 180.0,160.0 215.0,300.0 190.0,455.0 120.0,420.0" fill="#f7c3c9"/>
<path d="M185,440 C120,380 30,300 45,240 C60,195 125,220 150,302 C160,230 195,145 232,166 C272,200 222,330 185,440 Z" fill="#f08c9b" stroke="#272525" stroke-width="14" stroke-linecap="round" stroke-linejoin="round" />
<path d="M28,40 l14,22" fill="none" stroke="#272525" stroke-width="12" stroke-linecap="round" stroke-linejoin="round" />
<path d="M105,1000 C100,800 250,500 600,445 C900,420 1150,700 1185,950 C1210,1150 1100,1340 900,1390 C700,1420 450,1400 300,1340 C180,1270 110,1150 105,1000 Z" fill="#f3f6f8" stroke="#272525" stroke-width="14" stroke-linecap="round" stroke-linejoin="round" />
<polygon points="380.0,520.0 640.0,470.0 700.0,620.0 640.0,800.0 460.0,820.0 380.0,700.0" fill="#e6edf1"/>
<polygon points="660.0,600.0 900.0,560.0 1000.0,700.0 960.0,860.0 760.0,800.0" fill="#e3eaef"/>
<path d="M300,1335 C330,1260 420,1230 520,1235 C600,1180 700,1150 800,1170 C900,1180 1000,1140 1130,1200 C1150,1300 1050,1350 900,1388 C700,1418 450,1398 300,1335 Z" fill="#a3a08d" stroke="none" stroke-width="0" stroke-linecap="round" stroke-linejoin="round" />
<polygon points="760.0,1200.0 1100.0,1190.0 1140.0,1260.0 1000.0,1370.0 800.0,1380.0" fill="#93aa8b"/>
<polygon points="490.0,1280.0 560.0,1210.0 700.0,1240.0 740.0,1330.0 620.0,1360.0 500.0,1330.0" fill="#cf89a0"/>
<path d="M490,1310 Q520,1280 580,1295 Q560,1230 600,1215 Q640,1240 620,1290 Q690,1230 720,1270 Q700,1300 620,1300 Q700,1300 735,1330 Q700,1360 610,1320 Q560,1350 500,1335 Q480,1320 490,1310" fill="none" stroke="#272525" stroke-width="12" stroke-linecap="round" stroke-linejoin="round" />
<polygon points="150.0,1060.0 250.0,1180.0 330.0,1250.0 260.0,1270.0 170.0,1170.0" fill="#93c47a"/>
<path d="M560,1200 C624,1195 676,1075 655,1005 C587,1032 525,1147 560,1200 Z" fill="#a9d690" stroke="#272525" stroke-width="13" stroke-linecap="round" stroke-linejoin="round" />
<path d="M520,1210 C592,1178 634,987 600,895 C526,960 472,1147 520,1210 Z" fill="#a9d690" stroke="#272525" stroke-width="13" stroke-linecap="round" stroke-linejoin="round" />
<path d="M350,1240 C370,1170 263,1059 178,1048 C179,1133 278,1253 350,1240 Z" fill="#a9d690" stroke="#272525" stroke-width="13" stroke-linecap="round" stroke-linejoin="round" />
<path d="M410,1245 C463,1171 381,1000 285,955 C252,1055 320,1232 410,1245 Z" fill="#a9d690" stroke="#272525" stroke-width="13" stroke-linecap="round" stroke-linejoin="round" />
<path d="M455,1240 C539,1193 540,988 470,900 C393,982 375,1185 455,1240 Z" fill="#a9d690" stroke="#272525" stroke-width="13" stroke-linecap="round" stroke-linejoin="round" />
<polygon points="840.0,880.0 1000.0,960.0 1020.0,1080.0 900.0,1180.0 760.0,1170.0 720.0,1000.0" fill="#bab54f"/>
<path d="M740,1200 Q760,1000 690,850" fill="none" stroke="#272525" stroke-width="13" stroke-linecap="round" stroke-linejoin="round" />
<path d="M690,850 C741,827 731,746 682,715 C637,752 637,833 690,850 Z" fill="#aaa63c" stroke="#272525" stroke-width="12" stroke-linecap="round" stroke-linejoin="round" />
<path d="M745,925 C785,932 824,871 815,828 C771,833 726,889 745,925 Z" fill="#aaa63c" stroke="#272525" stroke-width="12" stroke-linecap="round" stroke-linejoin="round" />
<path d="M722,992 C723,957 663,924 625,932 C635,970 692,1009 722,992 Z" fill="#aaa63c" stroke="#272525" stroke-width="12" stroke-linecap="round" stroke-linejoin="round" />
<path d="M770,1035 C801,1056 869,1020 885,980 C844,968 773,998 770,1035 Z" fill="#aaa63c" stroke="#272525" stroke-width="12" stroke-linecap="round" stroke-linejoin="round" />
<path d="M880,1005 C914,1033 1012,1004 1045,962 C996,941 896,964 880,1005 Z" fill="#aaa63c" stroke="#272525" stroke-width="12" stroke-linecap="round" stroke-linejoin="round" />
<path d="M858,1072 C871,1101 942,1110 975,1092 C950,1064 880,1049 858,1072 Z" fill="#aaa63c" stroke="#272525" stroke-width="12" stroke-linecap="round" stroke-linejoin="round" />
<path d="M762,1102 C771,1075 730,1032 698,1028 C698,1061 734,1107 762,1102 Z" fill="#aaa63c" stroke="#272525" stroke-width="12" stroke-linecap="round" stroke-linejoin="round" />
<path d="M850,985 C877,988 909,943 905,912 C874,917 839,960 850,985 Z" fill="#aaa63c" stroke="#272525" stroke-width="12" stroke-linecap="round" stroke-linejoin="round" />
<path d="M800,1180 Q810,1100 830,1060 M790,1200 Q850,1150 900,1180" fill="none" stroke="#272525" stroke-width="12" stroke-linecap="round" stroke-linejoin="round" />
<path d="M345,625 C300,700 230,800 235,900" fill="none" stroke="#a6c3ca" stroke-width="30" stroke-linecap="round" stroke-linejoin="round" />
<path d="M345,625 C300,700 230,800 235,900 M215,905 L270,890 M455,700 L395,765" fill="none" stroke="#272525" stroke-width="12" stroke-linecap="round" stroke-linejoin="round" />
<circle cx="343" cy="600" r="32" fill="#f9d153" stroke="#272525" stroke-width="12"/>
<circle cx="453" cy="672" r="28" fill="#f9d153" stroke="#272525" stroke-width="12"/>
<circle cx="360" cy="848" r="36" fill="#fbcfa3" stroke="#272525" stroke-width="12"/>
<ellipse cx="578" cy="850" rx="36" ry="42" fill="#fbcfa3" stroke="#272525" stroke-width="12"/>
<circle cx="160" cy="995" r="34" fill="#fbcfa3" stroke="#272525" stroke-width="12"/>
<path d="M360,885 Q370,930 400,960 M578,892 Q590,940 600,1000 M170,1028 Q200,1050 250,1050 M270,920 L220,1020" fill="none" stroke="#272525" stroke-width="12" stroke-linecap="round" stroke-linejoin="round" />
<ellipse cx="885" cy="706" rx="225" ry="130" fill="#f6f9fa" stroke="#272525" stroke-width="13" transform="rotate(42 885 706)"/>
<path d="M968,840 L968,940" fill="none" stroke="#272525" stroke-width="11" stroke-linecap="round" stroke-linejoin="round" />
<polygon points="880.0,720.0 975.0,700.0 1000.0,830.0 905.0,850.0" fill="#e4e8ea"/>
<polygon points="1030.0,1020.0 1140.0,1010.0 1150.0,1100.0 1045.0,1112.0" fill="#f0f0f0"/>
<path d="M870,1320 Q900,1260 935,1265 Q945,1290 960,1275 Q985,1270 985,1305 M1030,1180 Q1060,1160 1080,1180 Q1100,1170 1125,1210" fill="none" stroke="#272525" stroke-width="12" stroke-linecap="round" stroke-linejoin="round" />
<path d="M110,760 Q150,830 200,860" fill="none" stroke="#272525" stroke-width="12" stroke-linecap="round" stroke-linejoin="round" />
<path d="M1160,1252 Q1300,1240 1415,1246" fill="none" stroke="#272525" stroke-width="13" stroke-linecap="round" stroke-linejoin="round" />
<polygon points="1120.0,450.0 1380.0,170.0 1470.0,230.0 1440.0,320.0 1170.0,500.0" fill="#fcebb8"/>
<path d="M1405,200 Q1440,200 1436,240 Q1430,275 1408,272" fill="none" stroke="#272525" stroke-width="14" stroke-linecap="round" stroke-linejoin="round" />
<g transform="rotate(-28 1285 315)"><rect x="1170" y="268" width="230" height="95" fill="#eef0ee"/></g>
<ellipse cx="1297" cy="322" rx="24" ry="30" fill="none" stroke="#111" stroke-width="8" transform="rotate(-20 1297 322)"/>
<polygon points="1260.0,650.0 1330.0,620.0 1440.0,640.0 1370.0,740.0 1300.0,700.0" fill="#fcebb8"/>
<g transform="rotate(-20 1385 610)"><rect x="1315" y="565" width="140" height="90" fill="#eeefee"/></g>
<g transform="rotate(-20 1560 550)"><rect x="1510" y="485" width="100" height="130" fill="#f6e3a0"/><rect x="1545" y="490" width="50" height="100" fill="#e9d795"/></g>
<polygon points="1280.0,915.0 1520.0,910.0 1525.0,1030.0 1340.0,1040.0 1285.0,1000.0" fill="#fdf5dc"/>
<rect x="1325" y="920" width="195" height="90" fill="#eeeee4"/>
<polygon points="1610.0,1000.0 1700.0,1010.0 1690.0,1060.0 1640.0,1095.0 1600.0,1070.0" fill="#fcebb8"/>
<g transform="rotate(-3 1612 1000)"><rect x="1545" y="930" width="135" height="140" fill="#f0f0f0"/></g>
</g>
<text x="2381.5" y="1468" font-size="22" fill="#111" transform="rotate(-12 2381 1460)" text-anchor="middle">1</text>
<text x="2391" y="1573" font-size="22" fill="#111" text-anchor="middle">0</text>
<text x="2447" y="1584" font-size="37" fill="#111" text-anchor="middle">9</text>
<path d="M1937,1340 l13,3 M1954,1311 l10,5 " fill="none" stroke="#262626" stroke-width="4" stroke-linecap="round" stroke-linejoin="round" />
</svg>
</body></html>
